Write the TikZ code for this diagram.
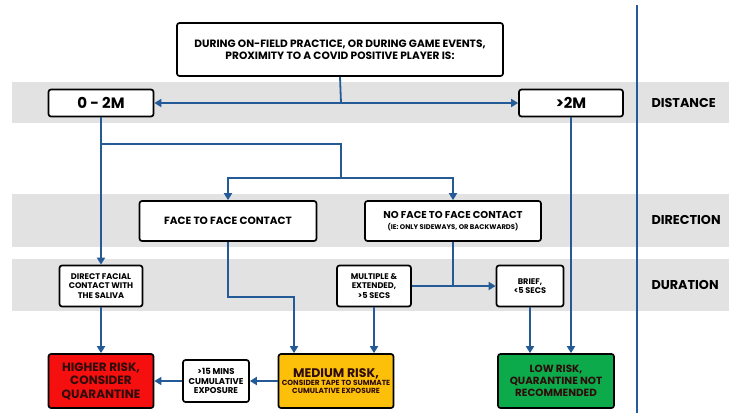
\documentclass[tikz,border=0pt]{standalone}
\usepackage{fontspec}
\setmainfont{Poppins}
\usetikzlibrary{arrows.meta}

\tikzset{
  box/.style={draw=black,line width=1.7pt,rounded corners=2.5pt,fill=white,
    align=center,inner sep=1pt,font=\bfseries\fontsize{8.2}{9.6}\selectfont},
  link/.style={draw=lineblue,line width=1.8pt},
  arr/.style={link,-{Triangle[length=7pt,width=8pt]}},
  band/.style={fill=bandgray},
  side/.style={anchor=west,font=\bfseries\fontsize{12.8}{14}\selectfont}
}

\begin{document}
\begin{tikzpicture}[x=1pt,y=-1pt]
    \definecolor{lineblue}{HTML}{245B96}
    \definecolor{bandgray}{HTML}{E2E2E2}
    \definecolor{riskred}{HTML}{F50F0F}
    \definecolor{riskorange}{HTML}{FDC00A}
    \definecolor{riskgreen}{HTML}{0DAA4B}
    \definecolor{darktext}{HTML}{2E0C0C}
    \useasboundingbox (0,0) rectangle (729,413);
    % grey bands
    \foreach \ya/\yb in {82/123, 194/247, 259/311}
      \fill[band] (12,\ya) rectangle (729,\yb);
    \draw[link] (637,5) -- (637,413);
    \node[side] (ldist) at (648,103) {DISTANCE};
    \node[side] (ldir) at (648,220) {DIRECTION};
    \node[side] (ldur) at (648,285) {DURATION};
    % boxes
    \node[box,minimum width=326,minimum height=53,font=\bfseries\fontsize{10.6}{12}\selectfont] (top) at (340,49.5)
      {DURING ON-FIELD PRACTICE, OR DURING GAME EVENTS,\\PROXIMITY TO A COVID POSITIVE PLAYER IS:};
    \node[box,minimum width=105,minimum height=27,font=\bfseries\fontsize{15}{16}\selectfont] (near) at (101,103) {0 - 2M};
    \node[box,minimum width=104,minimum height=27,font=\bfseries\fontsize{15}{16}\selectfont] (far) at (571,103) {>2M};
    \node[box,minimum width=177,minimum height=40,font=\bfseries\fontsize{10.5}{12}\selectfont] (face) at (228,221) {FACE TO FACE CONTACT};
    \node[box,minimum width=176,minimum height=40,font=\bfseries\fontsize{10}{10.5}\selectfont] (noface) at (453,221)
      {NO FACE TO FACE CONTACT\\{\fontsize{6.8}{8}\selectfont (IE: ONLY SIDEWAYS, OR BACKWARDS)}};
    \node[box,minimum width=83,minimum height=41] (saliva) at (101,286) {DIRECT FACIAL\\CONTACT WITH\\THE SALIVA};
    \node[box,minimum width=74,minimum height=41] (multi) at (374,286) {MULTIPLE \&\\EXTENDED,\\>5 SECS};
    \node[box,minimum width=67,minimum height=41] (brief) at (530,286) {BRIEF,\\<5 SECS};
    \node[box,fill=riskred,text=darktext,minimum width=105,minimum height=54,font=\bfseries\fontsize{12}{13.5}\selectfont] (higher) at (101,381)
      {HIGHER RISK,\\CONSIDER\\QUARANTINE};
    \node[box,minimum width=66,minimum height=42,font=\bfseries\fontsize{8.5}{9.6}\selectfont] (cumul) at (216,381) {>15 MINS\\CUMULATIVE\\EXPOSURE};
    \node[box,fill=riskorange,text=darktext,minimum width=115,minimum height=54,font=\bfseries\fontsize{7.4}{8.4}\selectfont] (medium) at (336,381)
      {{\fontsize{12.5}{14}\selectfont MEDIUM RISK,}\\CONSIDER TAPE TO SUMMATE\\CUMULATIVE EXPOSURE};
    \node[box,fill=riskgreen,text=darktext,minimum width=116,minimum height=54,font=\bfseries\fontsize{10.4}{12}\selectfont] (low) at (556,381)
      {LOW RISK,\\QUARANTINE NOT\\RECOMMENDED};
    % connectors
    \coordinate (split) at (341,103);
    \coordinate (b1) at (101,144);
    \coordinate (b2) at (341,144);
    \coordinate (b3) at (341,178);
    \coordinate (m1) at (294,297);
    \draw[link] (top.south) -- (split);
    \draw[arr] (split) -- (near);
    \draw[arr] (split) -- (far);
    \draw[arr] (near) -- (saliva);
    \draw[link] (b1) -- (b2) -- (b3);
    \draw[arr] (b3) -| (face.north);
    \draw[arr] (b3) -| (noface.north);
    \draw[arr] (far) -- (far.south |- low.north);
    \draw[arr] (face.south) |- (m1) -- (m1 |- medium.north);
    \draw[arr] (multi) -- (multi.south |- medium.north);
    \draw[arr] (multi) -- (brief);
    \draw[link] (noface.south) -- (noface.south |- multi.east);
    \draw[arr] (brief) -- (brief.south |- low.north);
    \draw[arr] (saliva) -- (higher);
    \draw[arr] (medium) -- (cumul);
    \draw[arr] (cumul) -- (higher);
\end{tikzpicture}
\end{document}
